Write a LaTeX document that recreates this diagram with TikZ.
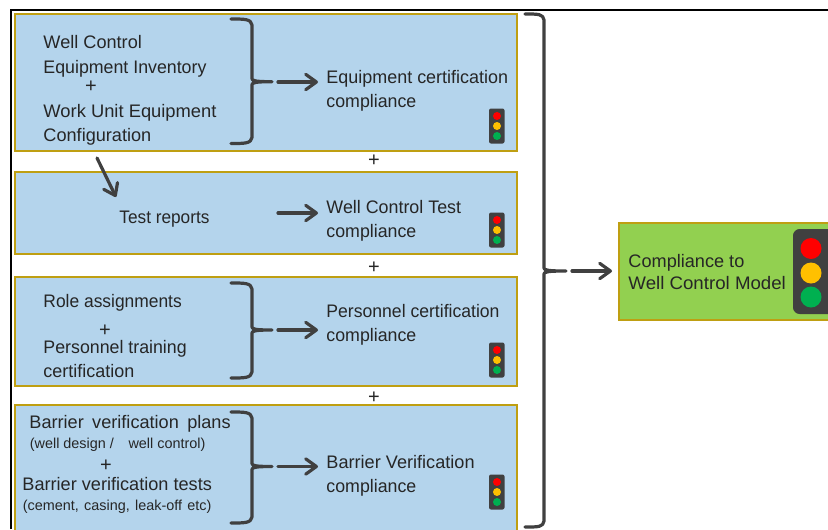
\documentclass[tikz,border=0pt]{standalone}
\usepackage{fontspec}
\usepackage{graphicx}
\setmainfont{Liberation Sans}
\usetikzlibrary{arrows.meta}
\definecolor{boxblue}{HTML}{B4D4EC}
\definecolor{boxgold}{HTML}{BF9F12}
\definecolor{boxgreen}{HTML}{92D050}
\definecolor{dark}{HTML}{404040}
\definecolor{ink}{HTML}{262626}
\definecolor{lampred}{HTML}{FF0000}
\definecolor{lampamber}{HTML}{FFC000}
\definecolor{lampgreen}{HTML}{00B050}
\tikzset{
 x=0.75pt,y=-0.75pt,
 panel/.style={draw=boxgold,line width=1.8pt,fill=boxblue,inner sep=0pt},
 lbl/.style={anchor=base west,inner sep=0pt,xshift=-0.6pt,text=ink,font=\fontsize{13.6}{16}\selectfont},
 smalllbl/.style={anchor=base west,inner sep=0pt,xshift=-0.3pt,text=ink,font=\fontsize{10.8}{12}\selectfont},
 plus/.style={anchor=base,inner sep=0pt,text=ink,font=\fontsize{15}{16}\selectfont},
 brace/.style={draw=dark,line width=2.4pt,line join=round,line cap=round},
 arrowline/.style={draw=dark,line width=2.4pt,line cap=round,-{Straight Barb[length=8pt,width=11.5pt,line width=2.4pt,round]}},
}
\newcommand{\sx}[2]{\scalebox{#1}[1]{#2}}
\newcommand{\smalllight}[2]{%
 \fill[dark,rounded corners=1.5pt] (#1-8,#2-17.5) rectangle (#1+7.5,#2+17.5);
 \fill[lampred] (#1,#2-10) circle[radius=4];
 \fill[lampamber] (#1,#2) circle[radius=4];
 \fill[lampgreen] (#1,#2+10) circle[radius=4];}
\newcommand{\bracket}[6]{%
 \draw[brace] (#1,#3) .. controls (#1+14,#3) and (#2-1,#3) .. (#2,#3+6) -- (#2,#4-3) .. controls (#2,#4-1) and (#2+3,#4) .. (#5,#4) .. controls (#2+3,#4) and (#2,#4+1) .. (#2,#4+3) -- (#2,#6-6) .. controls (#2-1,#6) and (#1+14,#6) .. (#1,#6);}
\begin{document}
\begin{tikzpicture}
\useasboundingbox (0,0) rectangle (828,529);
\fill[white] (0,0) rectangle (828,529);
\draw[black,line width=1.6pt] (10.7,529) -- (10.7,10.3) -- (828,10.3);
% panels
\path[panel] (15,14) rectangle (517,151);
\path[panel] (15,172) rectangle (517,254);
\path[panel] (15,277) rectangle (517,386);
\path[panel] (15,405) rectangle (517,535);
\path[draw=boxgold,line width=1.8pt,fill=boxgreen] (619,223) rectangle (835,320);
% panel 1
\node[lbl] (a1) at (44,48) {\sx{1.0}{Well Control}};
\node[lbl] (a2) at (44,73) {\sx{0.98}{Equipment Inventory}};
\node[plus] (a3) at (91,92) {+};
\node[lbl] (a4) at (44,117) {\sx{1.012}{Work Unit Equipment}};
\node[lbl] (a5) at (44,141) {Configuration};
\node[lbl] (a6) at (327,83) {\sx{0.99}{Equipment certification}};
\node[lbl] (a7) at (327,107) {\sx{0.98}{compliance}};
% panel 2
\node[lbl] (b1) at (120,223) {\sx{0.95}{Test reports}};
\node[lbl] (b2) at (327,213) {\sx{0.985}{Well Control Test}};
\node[lbl] (b3) at (327,237) {\sx{0.98}{compliance}};
% panel 3
\node[lbl] (c1) at (44,307) {\sx{0.96}{Role assignments}};
\node[plus] (c2) at (105,336) {+};
\node[lbl] (c3) at (44,353) {\sx{0.98}{Personnel training}};
\node[lbl] (c4) at (44,377) {\sx{0.99}{certification}};
\node[lbl] (c5) at (327,317) {\sx{0.97}{Personnel certification}};
\node[lbl] (c6) at (327,341) {\sx{0.98}{compliance}};
% panel 4
\node[lbl] (d1) at (30,428) {Barrier\hspace{2.5pt} verification\hspace{2.5pt} plans};
\node[smalllbl] (d2) at (30,448) {(well design /\hspace{11pt}well control)};
\node[plus] (d3) at (106,471) {+};
\node[lbl] (d4) at (23,490) {Barrier verification tests};
\node[smalllbl] (d5) at (23,510) {(cement,\hspace{1pt} casing,\hspace{1pt} leak-off\hspace{1pt} etc)};
\node[lbl] (d6) at (327,468) {Barrier Verification};
\node[lbl] (d7) at (327,492) {\sx{0.98}{compliance}};
% plus signs between panels
\node[plus] (p1) at (374,166) {+};
\node[plus] (p2) at (374,273) {+};
\node[plus] (p3) at (374,403) {+};
% green box
\node[lbl] (e1) at (629,267) {Compliance to};
\node[lbl] (e2) at (629,289) {\sx{1.03}{Well Control Model}};
% small lights
\smalllight{497}{126}
\smalllight{497}{230}
\smalllight{497}{360}
\smalllight{497}{492}
% big light
\fill[dark,rounded corners=5pt] (793,229) rectangle (835,314);
\fill[lampred] (811,248.5) circle[radius=10.5];
\fill[lampamber] (811,273) circle[radius=10.5];
\fill[lampgreen] (811,297) circle[radius=10.5];
% braces
\bracket{231}{252}{19}{81.7}{272}{143.5}
\bracket{231}{252}{283}{330}{272}{378}
\bracket{231}{252}{412}{466.5}{272}{523}
\bracket{525}{544}{14}{271}{566}{527}
% arrows
\coordinate (s1) at (278,82); \coordinate (t1) at (318,82);
\coordinate (s2) at (278,213); \coordinate (t2) at (318,213);
\coordinate (s3) at (278,330); \coordinate (t3) at (318,330);
\coordinate (s4) at (278,466.5); \coordinate (t4) at (318,466.5);
\coordinate (s5) at (572,271); \coordinate (t5) at (612,271);
\coordinate (s6) at (97,158); \coordinate (t6) at (116,197);
\draw[arrowline] (s1) -- (t1);
\draw[arrowline] (s2) -- (t2);
\draw[arrowline] (s3) -- (t3);
\draw[arrowline] (s4) -- (t4);
\draw[arrowline] (s5) -- (t5);
\draw[arrowline] (s6) -- (t6);
\end{tikzpicture}
\end{document}
